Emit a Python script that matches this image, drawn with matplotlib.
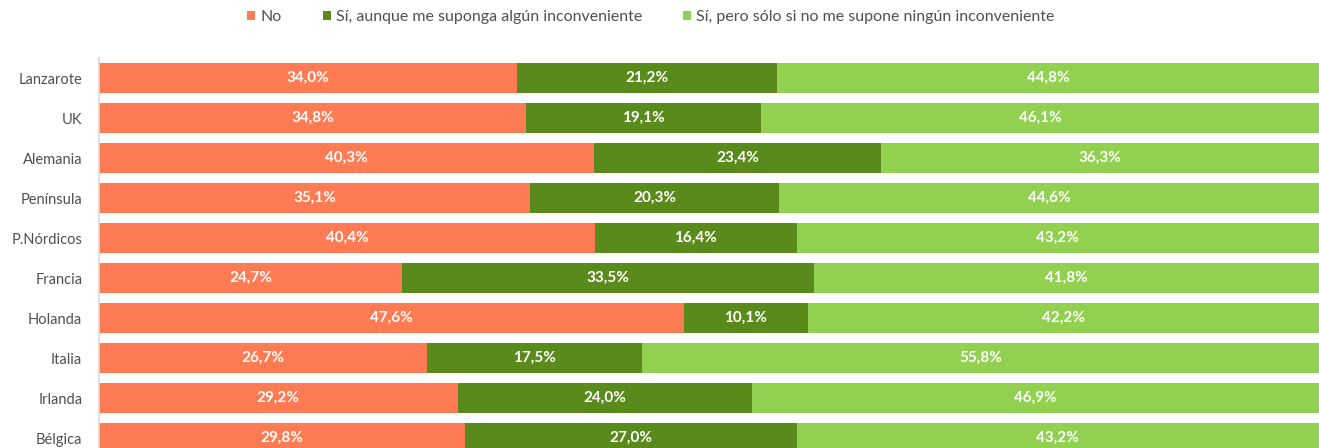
import numpy as np
import matplotlib.pyplot as plt

plt.rcParams['font.family'] = ['Lato', 'DejaVu Sans']

paises = ["Lanzarote", "UK", "Alemania", "Península", "P.Nórdicos",
          "Francia", "Holanda", "Italia", "Irlanda", "Bélgica"]
no = [34.0, 34.8, 40.3, 35.1, 40.4, 24.7, 47.6, 26.7, 29.2, 29.8]
si_aunque = [21.2, 19.1, 23.4, 20.3, 16.4, 33.5, 10.1, 17.5, 24.0, 27.0]
si_pero = [44.8, 46.1, 36.3, 44.6, 43.2, 41.8, 42.2, 55.8, 46.9, 43.2]

series = [no, si_aunque, si_pero]
nombres = ["No", "Sí, aunque me suponga algún inconveniente",
           "Sí, pero sólo si no me supone ningún inconveniente"]
colores = ["#FF7B53", "#5B8A1C", "#92D050"]

fig = plt.figure(figsize=(13.19, 4.48), dpi=100)
ax = fig.add_axes([99 / 1319, -10 / 448, 1228 / 1319, 400 / 448])

y = np.arange(len(paises))
left = np.zeros(len(paises))
for vals, nombre, c in zip(series, nombres, colores):
    vals = np.array(vals)
    ax.barh(y, vals, left=left, height=0.73, color=c, label=nombre)
    for yi, l, v in zip(y, left, vals):
        # the last segment is cut at the figure edge, keep its label centred in the visible part
        xc = l + v / 2 if c != colores[-1] else (l + (1220 / 1228) * 100) / 2
        ax.text(xc, yi, f"{v:.1f}%".replace(".", ","), ha="center",
                va="center", color="white", fontweight="bold", fontsize=11)
    left += vals

ax.set_ylim(len(paises) - 0.5, -0.5)
ax.set_xlim(0, 100)
ax.set_yticks(y)
ax.set_yticklabels(paises, fontsize=10.5, color="#505050")
ax.tick_params(axis="y", length=0, pad=12)
ax.set_xticks([])
for s in ["top", "right", "bottom"]:
    ax.spines[s].set_visible(False)
ax.spines["left"].set_color("#D9D9D9")
ax.spines["left"].set_linewidth(1.2)

fig.legend(loc="center", bbox_to_anchor=(0.4935, 0.962), ncol=3, frameon=False,
           fontsize=11.5, handlelength=0.5, handleheight=0.5, handletextpad=0.3,
           columnspacing=2.6, labelcolor="#505050")

fig.savefig("out.png", dpi=100)
